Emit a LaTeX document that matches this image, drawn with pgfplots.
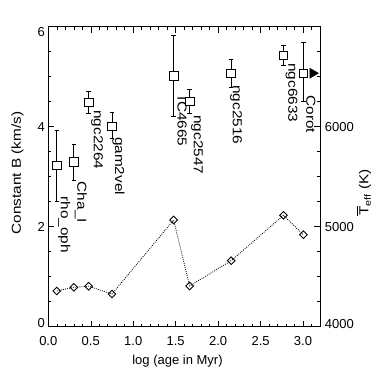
\documentclass[border=0pt]{standalone}
\usepackage{fontspec}
\setmainfont{Liberation Sans}
\usepackage{amsmath}
\usepackage{graphicx}
\usepackage{pgfplots}
\pgfplotsset{compat=1.18}

\newcommand\ff{\fontsize{13bp}{15.6bp}\selectfont}
% rotated texts in the original are a bit stretched along the reading direction
\newcommand\rot[1]{\scalebox{1.18}[1]{#1}}

% constant B with asymmetric errors
\pgfplotstableread{
x     y    ep   em
0.10  3.23 0.69 0.72
0.30  3.30 0.35 0.37
0.475 4.49 0.22 0.22
0.75  4.01 0.27 0.24
1.476 5.02 0.81 0.81
1.665 4.51 0.24 0.24
2.154 5.07 0.28 0.28
2.77  5.43 0.20 0.20
3.005 5.07 0.61 0.57
}\bdata

% mean Teff
\pgfplotstableread{
x     t
0.10  4357
0.30  4394
0.475 4404
0.75  4327
1.476 5067
1.665 4407
2.154 4660
2.77  5114
3.005 4920
}\tdata

\begin{document}
\begin{tikzpicture}[font=\ff]
\pgfplotsset{
  base/.style={
    scale only axis, width=271.7bp, height=300bp,
    xmin=0, xmax=3.2,
    tick align=inside,
    major tick length=6bp, minor tick length=3bp,
    every tick/.style={black, line width=0.5bp},
    axis line style={black, line width=0.6bp},
    /pgf/number format/assume math mode=true,
  },
}
\begin{axis}[base,
  ymin=0, ymax=6,
  xtick={0,0.5,1,1.5,2,2.5,3},
  xticklabels={0.0,0.5,1.0,1.5,2.0,2.5,3.0},
  minor xtick={0.1,0.2,0.3,0.4,0.6,0.7,0.8,0.9,1.1,1.2,1.3,1.4,1.6,1.7,1.8,1.9,2.1,2.2,2.3,2.4,2.6,2.7,2.8,2.9,3.1},
  xticklabel pos=lower,
  xticklabel style={yshift=-6bp},
  ytick={0,2,4,6},
  yticklabels={\raisebox{4bp}[\height][\depth]{0},2,4,\raisebox{-5bp}[\height][\depth]{6}},
  minor y tick num=3,
  ytick pos=left,
  xlabel={log (age in Myr)},
  xlabel style={at={(axis description cs:0.4755,-0.1143)}, anchor=center},
  ylabel={\rot{Constant B (km/s)}},
  ylabel style={at={(axis description cs:-0.1134,0.512)}, anchor=center},
]
\coordinate (sw) at (rel axis cs:0,0);
\addplot[black, only marks, mark=none,
  error bars/.cd, y dir=both, y explicit,
  error bar style={black, solid, line width=0.8bp},
  error mark=-,
  error mark options={rotate=90, black, mark size=2.2bp, line width=0.8bp}]
  table[x=x, y=y, y error plus=ep, y error minus=em] \bdata;
\addplot[only marks, mark=square*, mark size=4.3bp,
  mark options={fill=white, draw=black, line width=0.8bp}]
  table[x=x, y=y] \bdata;
\addplot[only marks, mark=triangle*, mark size=5.8bp,
  mark options={rotate=-90, fill=black, draw=black}]
  coordinates {(3.114,5.07)};

\begin{scope}[every node/.style={rotate=-90, anchor=west, inner sep=0pt}]
\node at ([xshift=7.5bp, yshift=-31bp]axis cs:0.10,3.23)  {\rot{rho\_oph}};
\node at ([xshift=7bp,   yshift=-20bp]axis cs:0.30,3.30)  {\rot{Cha\_I}};
\node at ([xshift=8.5bp, yshift=-8bp]axis cs:0.475,4.49)  {\rot{ngc2264}};
\node at ([xshift=6.5bp, yshift=-10.7bp]axis cs:0.75,4.01){\rot{gam2vel}};
\node at ([xshift=8.4bp, yshift=-21bp]axis cs:1.476,5.02) {\rot{IC4665}};
\node at ([xshift=7.4bp, yshift=-14bp]axis cs:1.665,4.51) {\rot{ngc2547}};
\node at ([xshift=5bp,   yshift=-12bp]axis cs:2.154,5.07) {\rot{ngc2516}};
\node at ([xshift=8bp,   yshift=-8bp]axis cs:2.77,5.43)   {\rot{ngc6633}};
\node at ([xshift=7.5bp, yshift=-22bp]axis cs:3.005,5.07) {\rot{Corot}};
\end{scope}
\end{axis}

\begin{axis}[base,
  axis x line=none, axis y line*=right,
  ymin=4000, ymax=7000,
  ytick={4000,5000,6000},
  yticklabels={\raisebox{3bp}[\height][\depth]{4000},5000,6000},
  minor ytick={4250,4500,4750,5250,5500,5750,6250,6500,6750},
  yticklabel style={xshift=1.4bp},
  ylabel={\rot{$\overline{\text{T}}_{\text{eff}}$ (K)}},
  ylabel style={at={(axis description cs:1.162,0.447)}, anchor=center},
]
\addplot[black, line width=0.8bp, dash pattern=on 0.9bp off 1.2bp,
  mark=square, mark size=2.7bp,
  mark options={rotate=45, solid, line width=0.9bp}]
  table[x=x, y=t] \tdata;
\end{axis}

\path (sw) ++(-48.3bp,-55.3bp) rectangle ++(382bp,382bp);
\end{tikzpicture}
\end{document}
